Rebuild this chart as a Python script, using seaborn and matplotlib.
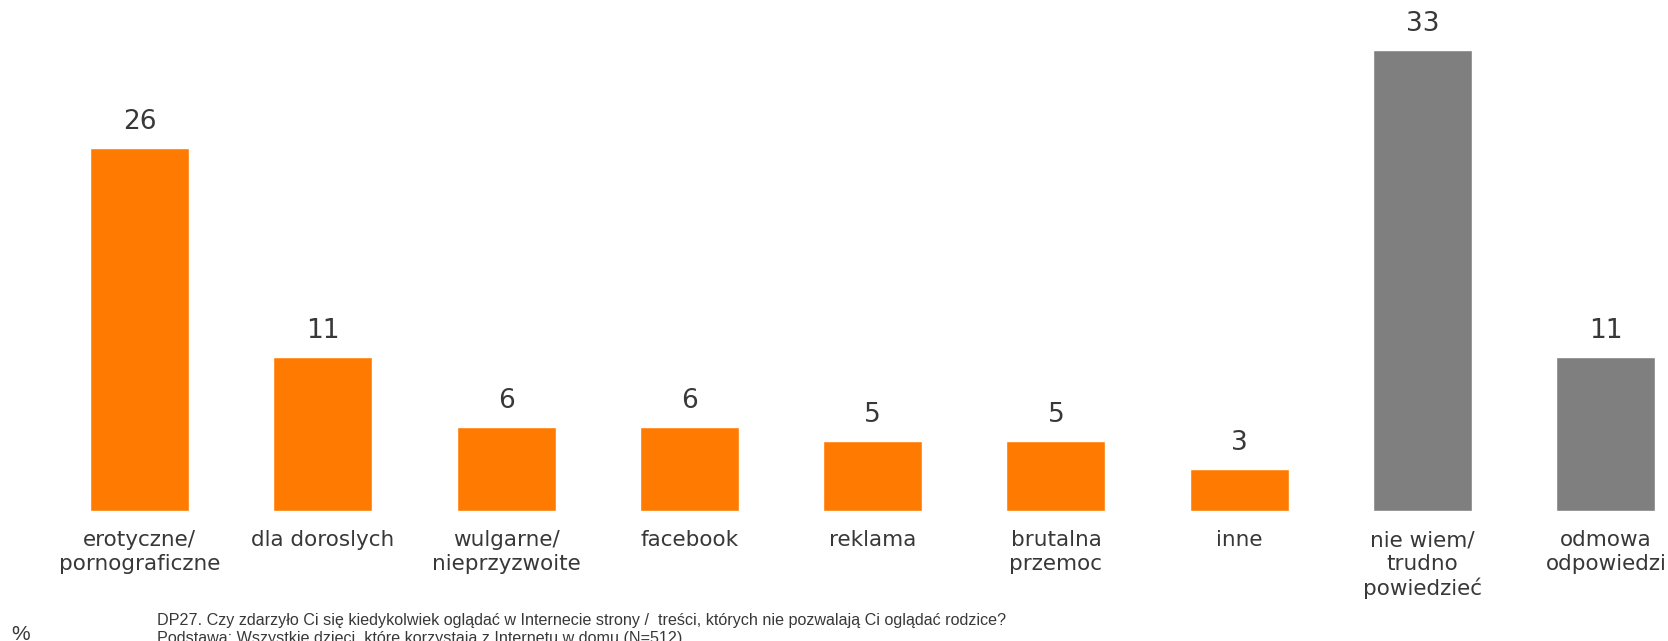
import matplotlib
matplotlib.use('Agg')
import matplotlib.pyplot as plt
import seaborn as sns
import pandas as pd

# Chart data
categories = ['erotyczne/\npornograficzne', 'dla doroslych', 'wulgarne/\nnieprzyzwoite',
              'facebook', 'reklama', 'brutalna\nprzemoc', 'inne',
              'nie wiem/\ntrudno\npowiedzieć', 'odmowa\nodpowiedzi']
values = [26, 11, 6, 6, 5, 5, 3, 33, 11]
groups = ['answer'] * 7 + ['other'] * 2
footer_question = ('DP27. Czy zdarzyło Ci się kiedykolwiek oglądać w Internecie strony /  treści, '
                   'których nie pozwalają Ci oglądać rodzice?')
footer_base = 'Podstawa: Wszystkie dzieci, które korzystają z Internetu w domu (N=512)'

ORANGE = '#FF7A00'
GREY = '#7F7F7F'
TEXT = '#383838'

sns.set_theme(style='white')
plt.rcParams['font.family'] = ['DejaVu Sans']

df = pd.DataFrame({'category': categories, 'value': values, 'group': groups})

fig = plt.figure(figsize=(16.68, 6.41), dpi=100)
ax = fig.add_axes([0, 130 / 641, 1, 511 / 641])

sns.barplot(data=df, x='category', y='value', hue='group',
            palette={'answer': ORANGE, 'other': GREY},
            dodge=False, width=0.54, legend=False, ax=ax, saturation=1)

for i, v in enumerate(values):
    ax.text(i, v + 0.95, str(v), ha='center', va='bottom', fontsize=19, color=TEXT)

ax.set_xlim(-0.761, 8.339)
ax.set_ylim(0, 36.58)
ax.set_xlabel('')
ax.set_ylabel('')
ax.set_yticks([])
ax.tick_params(axis='x', length=0, pad=14, labelsize=15.5, labelcolor=TEXT)
for lbl in ax.get_xticklabels():
    lbl.set_linespacing(1.2)
for s in ax.spines.values():
    s.set_visible(False)

# footer
fig.text(11 / 1668, 1 - 634 / 641, '%', fontsize=15, color=TEXT, va='center', ha='left',
         family=['Liberation Sans'])
fig.text(157 / 1668, 1 - 621 / 641, footer_question, fontsize=11.6, color=TEXT, va='center',
         ha='left', family=['Liberation Sans'])
fig.text(157 / 1668, 1 - 639 / 641, footer_base, fontsize=11.6, color=TEXT, va='center',
         ha='left', family=['Liberation Sans'])

fig.savefig('out.png', dpi=100, facecolor='white')
